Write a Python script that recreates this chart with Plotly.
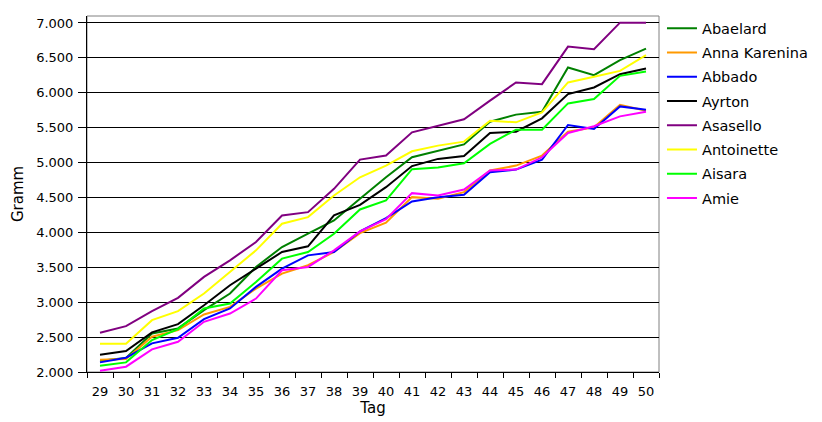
import plotly.graph_objects as go

days = [str(d) for d in range(29, 51)]

abaelard = [2160, 2200, 2552, 2624, 2886, 3124, 3505, 3790, 3981, 4171, 4481, 4790,
            5076, 5172, 5260, 5586, 5687, 5729, 6362, 6252, 6467, 6633]
anna_karenina = [2176, 2186, 2505, 2600, 2824, 2933, 3195, 3410, 3530, 3720, 3990, 4138,
                 4505, 4481, 4577, 4886, 4957, 5100, 5443, 5505, 5829, 5743]
abbado = [2138, 2205, 2410, 2490, 2757, 2910, 3219, 3481, 3671, 3719, 4015, 4205,
          4443, 4505, 4540, 4862, 4900, 5043, 5539, 5481, 5805, 5757]
ayrton = [2248, 2300, 2567, 2686, 2957, 3243, 3481, 3719, 3800, 4243, 4395, 4648,
          4950, 5053, 5095, 5424, 5443, 5634, 5981, 6076, 6267, 6348]
asasello = [2562, 2657, 2872, 3062, 3362, 3600, 3862, 4243, 4290, 4624, 5043, 5100,
            5434, 5529, 5620, 5887, 6148, 6124, 6662, 6624, 7005, 7005]
antoinette = [2405, 2405, 2743, 2872, 3124, 3433, 3743, 4124, 4219, 4529, 4790, 4957,
              5162, 5243, 5300, 5600, 5577, 5720, 6148, 6229, 6314, 6538]
aisara = [2090, 2138, 2457, 2614, 2910, 2981, 3290, 3624, 3719, 3981, 4329, 4457,
          4905, 4930, 4990, 5267, 5472, 5472, 5848, 5910, 6243, 6305]
amie = [2019, 2076, 2324, 2433, 2719, 2838, 3052, 3457, 3505, 3743, 4015, 4190,
        4562, 4529, 4615, 4886, 4900, 5076, 5424, 5520, 5662, 5729]

series_names = ["Abaelard", "Anna Karenina", "Abbado", "Ayrton", "Asasello",
                "Antoinette", "Aisara", "Amie"]
series_values = [abaelard, anna_karenina, abbado, ayrton, asasello, antoinette, aisara, amie]
series_colors = ["#008000", "#FF9900", "#0000FF", "#000000", "#800080",
                 "#FFFF00", "#00FF00", "#FF00FF"]

y_tick_vals = [2000, 2500, 3000, 3500, 4000, 4500, 5000, 5500, 6000, 6500, 7000]
y_tick_text = ["2.000", "2.500", "3.000", "3.500", "4.000", "4.500", "5.000",
               "5.500", "6.000", "6.500", "7.000"]

FONT = "DejaVu Sans"

fig = go.Figure()
for name, vals, col in zip(series_names, series_values, series_colors):
    fig.add_trace(go.Scatter(x=days, y=vals, mode="lines", name=name,
                             legendgroup=name,
                             line=dict(color=col, width=2)))

# page body has an 8px default margin, so the figure is 814x414 placed at (8,8)
fig.update_layout(
    width=814, height=414,
    margin=dict(l=79, r=163, t=8, b=50, autoexpand=False),
    paper_bgcolor="white", plot_bgcolor="white",
    font=dict(family=FONT, size=13, color="black"),
    showlegend=True,
    legend=dict(x=1.0052, xanchor="left", y=1.0104, yanchor="top",
                font=dict(family=FONT, size=14.5, color="black"),
                tracegroupgap=2.4, borderwidth=0, bgcolor="rgba(0,0,0,0)",
                itemwidth=30),
    shapes=[dict(type="rect", xref="paper", yref="paper", x0=0, x1=1, y0=0, y1=1,
                 line=dict(color="#808080", width=1), layer="below")],
)

fig.update_xaxes(
    type="category", range=[-0.5, 21.5], automargin=False,
    showline=True, linecolor="black", linewidth=1,
    ticks="outside", ticklen=5, tickcolor="black", tickson="boundaries",
    ticklabelstandoff=7,
    showgrid=False, zeroline=False,
    tickfont=dict(family=FONT, size=13),
    title=dict(text="Tag", font=dict(family=FONT, size=15), standoff=4),
)
fig.update_yaxes(
    range=[2000, 7100], automargin=False,
    tickvals=y_tick_vals, ticktext=y_tick_text,
    showline=True, linecolor="black", linewidth=1,
    ticks="outside", ticklen=8, tickcolor="black",
    ticklabelstandoff=2,
    showgrid=True, gridcolor="black", gridwidth=1, zeroline=False,
    tickfont=dict(family=FONT, size=13),
    title=dict(text="Gramm", font=dict(family=FONT, size=15), standoff=8),
)

fig.write_html("out.html")
